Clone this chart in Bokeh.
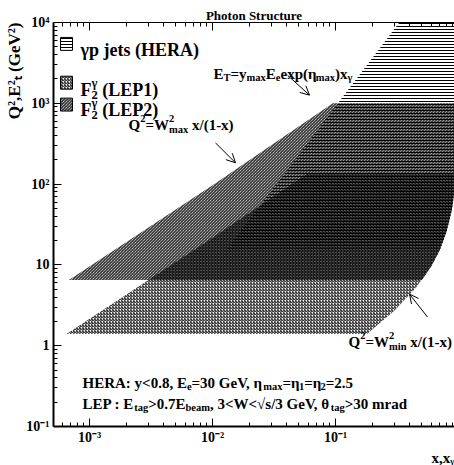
import math
from bokeh.plotting import figure
from bokeh.models import Label, Arrow, OpenHead, LogAxis, FixedTicker, Range1d, Title
from bokeh.embed import file_html
from bokeh.resources import INLINE

# ---------------- data (vertices inside the visible window) ----------------
# F2 gamma (LEP1): Q^2 between its minimum and maximum, below the W_max line, left of the W_min curve
lep1_x = [6.5e-4, 0.18, 0.30, 0.45, 0.60, 0.70, 0.80, 0.88, 0.925, 0.925, 0.059, 0.01]
lep1_q2 = [1.4, 1.4, 2.7, 5.2, 9.6, 15, 26, 47, 80, 135, 135, 21.7]
# F2 gamma (LEP2)
lep2_x = [6.8e-4, 0.505, 0.60, 0.70, 0.80, 0.88, 0.925, 0.925, 0.095, 0.01]
lep2_q2 = [6.5, 6.5, 9.6, 15, 26, 47, 80, 1000, 1000, 96.6]
# gamma p jets (HERA): E_T^2 above its minimum, right of the E_T line
hera_x = [0.0132, 0.714, 0.80, 0.88, 0.925, 0.925, 0.33]
hera_et2 = [16, 16, 26, 47, 80, 1e4, 1e4]

x_ticks = [1e-3, 1e-2, 1e-1]
x_tick_labels = ["10\u207b\u00b3", "10\u207b\u00b2", "10\u207b\u00b9"]
y_ticks = [0.1, 1, 10, 100, 1000, 10000]
y_tick_labels = ["10\u207b\u00b9", "1", "10", "10\u00b2", "10\u00b3", "10\u2074"]

# ---------------- layout ----------------
W, H = 454, 465
XL, XR, YT, YB = 53, 454, 22, 428
LX0, LX1 = -3.293, -0.033
LY0, LY1 = -1.0, 4.0

def X(px):
    return 10 ** (LX0 + (px - XL) / (XR - XL) * (LX1 - LX0))

def Y(py):
    return 10 ** (LY0 + (YB - py) / (YB - YT) * (LY1 - LY0))

FONT = "Liberation Serif"

p = figure(width=W, height=H, x_axis_type="log", y_axis_type="log",
           x_range=Range1d(10 ** LX0, 10 ** LX1), y_range=Range1d(10 ** LY0, 10 ** LY1),
           output_backend="svg", toolbar_location=None,
           min_border_left=XL, min_border_right=W - XR, min_border_top=YT, min_border_bottom=H - YB,
           outline_line_color=None, background_fill_color="white", border_fill_color="white")
p.grid.visible = False

x_minor = [k * 10 ** n for n in range(-4, 1) for k in range(2, 10)]
y_minor = [k * 10 ** n for n in range(-1, 4) for k in range(2, 10)]

def style_axis(ax, major, minor, labels, show_labels=True, lw=2):
    ax.ticker = FixedTicker(ticks=major, minor_ticks=minor)
    ax.major_label_overrides = {v: l for v, l in zip(major, labels)}
    ax.axis_line_width = lw
    ax.axis_line_color = "black"
    ax.major_tick_in = 8
    ax.major_tick_out = 0
    ax.minor_tick_in = 4
    ax.minor_tick_out = 0
    ax.major_tick_line_color = "black"
    ax.minor_tick_line_color = "black"
    ax.major_label_text_font = FONT
    ax.major_label_text_font_style = "bold"
    ax.major_label_text_font_size = "14px" if show_labels else "0px"
    ax.major_label_text_color = "black"

style_axis(p.xaxis[0], x_ticks, x_minor, x_tick_labels)
p.xaxis[0].major_label_standoff = 3
style_axis(p.yaxis[0], y_ticks, y_minor, y_tick_labels)
p.yaxis[0].major_label_standoff = 4

top = LogAxis()
style_axis(top, x_ticks, x_minor, ["", "", ""], show_labels=False, lw=1)
top.major_label_standoff = 0
p.add_layout(top, "above")

tfont = dict(text_font=FONT, text_font_style="bold", text_color="black", standoff=0)
p.add_layout(Title(text="Photon Structure", align="center", text_font_size="13px", **tfont), "above")
p.add_layout(Title(text="Q\u00b2,E\u00b2\u209c (GeV\u00b2)", align="right", text_font_size="17px", **tfont), "left")
p.add_layout(Title(text="x,x\u1d67", align="right", text_font_size="15px", **tfont), "below")

# ---------------- hatched regions ----------------
common = dict(fill_color="white", fill_alpha=0, line_color=None, hatch_color="black",
              hatch_alpha=1.0, hatch_weight=1)
p.patch(lep1_x, lep1_q2, hatch_pattern="/", hatch_scale=3, **common)
p.patch(lep2_x, lep2_q2, hatch_pattern="\\", hatch_scale=3, **common)
p.patch(hera_x, hera_et2, hatch_pattern="-", hatch_scale=3, **common)

# legend swatches (pixel layout positions)
sw = [(37, "-", 3), (76, "/", 3), (98, "\\", 3)]
for top_px, pat, sc in sw:
    p.quad(left=X(60), right=X(72), top=Y(top_px), bottom=Y(top_px + 13),
           fill_color="white", fill_alpha=0, line_color="black", line_width=1,
           hatch_pattern=pat, hatch_scale=sc, hatch_color="black", hatch_weight=1)

# ---------------- rich text helper ----------------
TB = {" ": 250, "!": 333, "(": 333, ")": 333, ",": 250, "-": 333, ".": 250, "/": 278,
      ":": 333, ";": 333, "<": 570, "=": 570, ">": 570,
      "A": 722, "B": 667, "C": 722, "D": 722, "E": 667, "F": 611, "G": 778, "H": 778, "I": 389,
      "J": 500, "K": 778, "L": 667, "M": 944, "N": 722, "O": 778, "P": 611, "Q": 778, "R": 722,
      "S": 556, "T": 667, "U": 722, "V": 722, "W": 1000, "X": 722, "Y": 722, "Z": 667,
      "a": 500, "b": 556, "c": 444, "d": 556, "e": 444, "f": 333, "g": 500, "h": 556, "i": 278,
      "j": 333, "k": 556, "l": 278, "m": 833, "n": 556, "o": 500, "p": 556, "q": 556, "r": 444,
      "s": 389, "t": 333, "u": 556, "v": 500, "w": 722, "x": 500, "y": 500, "z": 444,
      "\u03b3": 450, "\u03b7": 520, "\u03b8": 500, "\u221a": 549}

def tw(s, size):
    return sum(TB.get(c, 500) for c in s) * size / 1000.0

def put(px, py, text, fs, angle):
    p.add_layout(Label(x=X(px), y=Y(py), text=text, angle=angle, angle_units="rad",
                       text_font=FONT, text_font_style="bold", text_font_size=f"{fs:.1f}px",
                       text_color="black", text_baseline="alphabetic", text_align="left"))

def rich(px, py, segs, size, angle=0.0):
    dx, dy = math.cos(angle), -math.sin(angle)
    ux, uy = -math.sin(angle), -math.cos(angle)
    small = size * 0.7
    state = {"adv": 0.0}

    def emit(txt, fs, shift):
        lead = len(txt) - len(txt.lstrip(" "))
        a = state["adv"] + tw(" " * lead, fs)
        t = txt.strip(" ")
        if t:
            put(px + a * dx + shift * ux, py + a * dy + shift * uy, t, fs, angle)
        return tw(txt, fs)

    for seg in segs:
        if isinstance(seg, str):
            seg = (seg, "n")
        txt, kind = seg
        if kind == "n":
            state["adv"] += emit(txt, size, 0)
        elif kind == "sup":
            state["adv"] += emit(txt, small, 0.42 * size)
        elif kind == "sub":
            state["adv"] += emit(txt, small, -0.25 * size)
        elif kind == "ss":
            sup, sub = txt
            w1 = emit(sup, small, 0.42 * size)
            w2 = emit(sub, small, -0.28 * size)
            state["adv"] += max(w1, w2)

# legend labels
rich(80, 50, ["\u03b3p jets (HERA)"], 18)
rich(80, 90, ["F", (("\u03b3", "2"), "ss"), " (LEP1)"], 18)
rich(80, 110, ["F", (("\u03b3", "2"), "ss"), " (LEP2)"], 18)

# curve annotations
rich(213, 74, ["E", ("T", "sub"), "=y", ("max", "sub"), "E", ("e", "sub"), "exp(\u03b7", ("max", "sub"),
               ")x", ("\u03b3", "sub")], 15)
rich(128, 125, ["Q", ("2", "sup"), "=W", (("2", "max"), "ss"), " x/(1-x)"], 15)
rich(348, 343, ["Q", ("2", "sup"), "=W", (("2", "min"), "ss"), " x/(1-x)"], 15)

# cut descriptions
rich(82, 384, ["HERA: y<0.8, E", ("e", "sub"), "=30 GeV, \u03b7", ("max", "sub"), "=\u03b7", ("1", "sub"),
               "=\u03b7", ("2", "sub"), "=2.5"], 15)
rich(82, 405, ["LEP : E", ("tag", "sub"), ">0.7E", ("beam", "sub"), ", 3<W<\u221as/3 GeV, \u03b8",
               ("tag", "sub"), ">30 mrad"], 15)

for (x0, y0, x1, y1) in [(287, 75, 309, 95), (215, 143, 235, 163), (427, 318, 409, 295)]:
    p.add_layout(Arrow(end=OpenHead(size=9, line_width=1, line_color="black"),
                       x_start=X(x0), y_start=Y(y0), x_end=X(x1), y_end=Y(y1),
                       line_width=1, line_color="black"))

open("out.html", "w").write(file_html(p, INLINE))
